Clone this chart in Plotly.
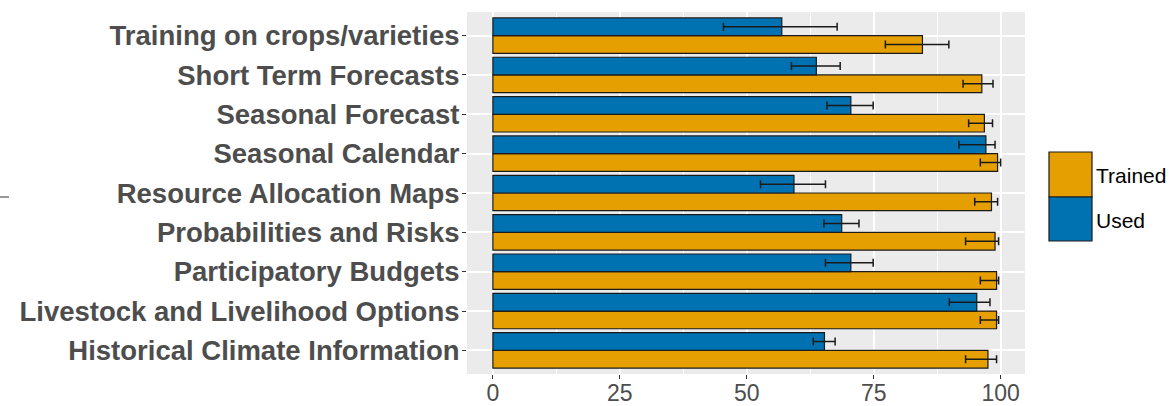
import plotly.graph_objects as go

categories = [
    "Historical Climate Information",
    "Livestock and Livelihood Options",
    "Participatory Budgets",
    "Probabilities and Risks",
    "Resource Allocation Maps",
    "Seasonal Calendar",
    "Seasonal Forecast",
    "Short Term Forecasts",
    "Training on crops/varieties",
]

trained = [97.5, 99.2, 99.2, 98.9, 98.2, 99.4, 96.8, 96.3, 84.6]
trained_lo = [93.1, 96.0, 96.0, 93.1, 94.9, 96.0, 93.7, 92.6, 77.3]
trained_hi = [99.2, 99.6, 99.6, 99.6, 99.4, 100.0, 98.4, 98.5, 89.8]

used = [65.3, 95.3, 70.5, 68.7, 59.3, 97.1, 70.5, 63.7, 56.9]
used_lo = [63.1, 89.9, 65.5, 65.2, 52.7, 91.8, 65.8, 58.8, 45.4]
used_hi = [67.4, 97.9, 74.9, 72.1, 65.5, 98.9, 74.9, 68.4, 67.8]

x_ticks = [0, 25, 50, 75, 100]

C_TRAINED = "#E69F00"
C_USED = "#0072B2"

def err(vals, lo, hi):
    return dict(
        type="data", symmetric=False,
        array=[h - v for v, h in zip(vals, hi)],
        arrayminus=[v - l for v, l in zip(vals, lo)],
        color="#1a1a1a", thickness=1.5, width=4,
    )

fig = go.Figure()
fig.add_trace(go.Bar(
    y=categories, x=trained, orientation="h", name="Trained",
    marker=dict(color=C_TRAINED, line=dict(color="#1a1a1a", width=1.2)),
    error_x=err(trained, trained_lo, trained_hi), showlegend=False,
))
fig.add_trace(go.Bar(
    y=categories, x=used, orientation="h", name="Used",
    marker=dict(color=C_USED, line=dict(color="#1a1a1a", width=1.2)),
    error_x=err(used, used_lo, used_hi), showlegend=False,
))

L, R, T, B = 467, 1025, 12, 374
W, H = R - L, B - T

def px(xp):
    return (xp - L) / W

def py(yp):
    return (B - yp) / H

shapes = [
    dict(type="rect", xref="paper", yref="paper",
         x0=px(1049), x1=px(1092), y0=py(197), y1=py(152),
         fillcolor=C_TRAINED, line=dict(color="#1a1a1a", width=1.2)),
    dict(type="rect", xref="paper", yref="paper",
         x0=px(1049), x1=px(1092), y0=py(241), y1=py(197),
         fillcolor=C_USED, line=dict(color="#1a1a1a", width=1.2)),
    dict(type="line", xref="paper", yref="paper",
         x0=px(0), x1=px(9), y0=py(197), y1=py(197),
         line=dict(color="#333333", width=1)),
]
annotations = [
    dict(xref="paper", yref="paper", x=px(1094), y=py(176), text="Trained",
         showarrow=False, xanchor="left", yanchor="middle",
         font=dict(family="Liberation Sans, Arial", size=21, color="#000000")),
    dict(xref="paper", yref="paper", x=px(1094), y=py(220), text="Used",
         showarrow=False, xanchor="left", yanchor="middle",
         font=dict(family="Liberation Sans, Arial", size=21, color="#000000")),
]

fig.update_layout(
    width=1174, height=406,
    margin=dict(l=L, r=1174 - R, t=T, b=406 - B, pad=0, autoexpand=False),
    paper_bgcolor="white", plot_bgcolor="#EBEBEB",
    barmode="group", bargap=0.1, bargroupgap=0,
    shapes=shapes, annotations=annotations,
    font=dict(family="Liberation Sans, Arial"),
)
fig.update_xaxes(
    range=[-5.1, 104.8], tickvals=x_ticks, ticktext=[str(v) for v in x_ticks],
    showgrid=True, gridcolor="white", gridwidth=1.6, zeroline=False,
    minor=dict(tickvals=[12.5, 37.5, 62.5, 87.5], showgrid=True, gridcolor="white", gridwidth=0.8),
    ticks="outside", ticklen=4, tickcolor="#333333", tickwidth=1,
    tickfont=dict(family="Liberation Sans, Arial", size=23, color="#4D4D4D"),
    ticklabelstandoff=-6, automargin=False,
)
fig.update_yaxes(
    categoryorder="array", categoryarray=categories, range=[-0.6, 8.6],
    showgrid=True, gridcolor="white", gridwidth=1.6, zeroline=False,
    ticks="outside", ticklen=4, tickcolor="#333333", tickwidth=1,
    tickfont=dict(family="Liberation Sans, Arial", size=27.5, color="#4D4D4D", weight="bold"),
    ticklabelstandoff=-3, automargin=False,
)

fig.write_html("out.html")
